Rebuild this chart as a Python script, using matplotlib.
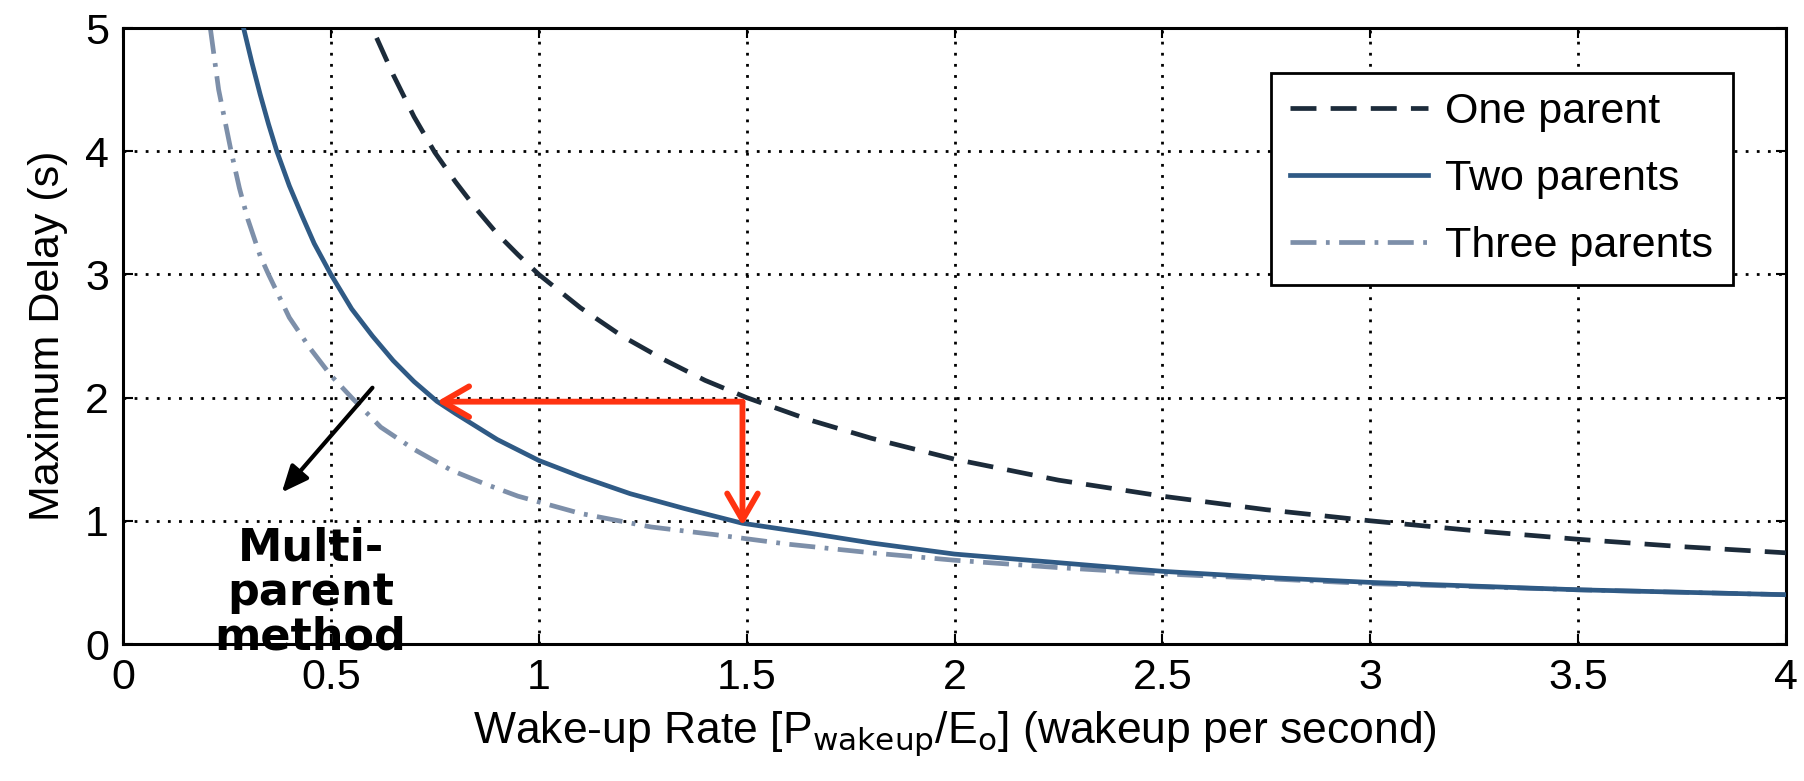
import matplotlib
matplotlib.use("Agg")
import matplotlib.pyplot as plt
from matplotlib import font_manager

# ---------- DATA ----------
one_x = [0.61, 0.65, 0.7, 0.75, 0.8, 0.85, 0.9, 0.95, 1.0, 1.1, 1.2, 1.3, 1.4,
         1.5, 1.65, 1.8, 2.0, 2.25, 2.5, 2.75, 3.0, 3.25, 3.5, 3.75, 4.0]
one_y = [4.92, 4.62, 4.28, 3.99, 3.75, 3.53, 3.33, 3.16, 3.0, 2.73, 2.5, 2.31,
         2.14, 2.0, 1.82, 1.67, 1.5, 1.33, 1.2, 1.09, 1.0, 0.92, 0.85, 0.79, 0.74]

two_x = [0.29, 0.31, 0.33, 0.35, 0.37, 0.4, 0.43, 0.46, 0.5, 0.55, 0.6, 0.65,
         0.7, 0.755, 0.8, 0.9, 1.0, 1.1, 1.22, 1.35, 1.49, 1.65, 1.8, 2.0,
         2.25, 2.5, 2.75, 3.0, 3.5, 4.0]
two_y = [5.0, 4.72, 4.46, 4.22, 4.0, 3.72, 3.48, 3.25, 3.0, 2.72, 2.5, 2.3,
         2.13, 1.97, 1.87, 1.66, 1.49, 1.36, 1.22, 1.1, 0.98, 0.9, 0.82, 0.73,
         0.66, 0.59, 0.54, 0.5, 0.44, 0.4]

three_x = [0.21, 0.23, 0.26, 0.28, 0.3, 0.33, 0.35, 0.4, 0.45, 0.5, 0.55,
           0.62, 0.7, 0.79, 0.87, 0.95, 1.1, 1.27, 1.43, 1.6, 1.8, 2.0, 2.25,
           2.5, 3.0, 3.5, 4.0]
three_y = [5.0, 4.5, 4.0, 3.7, 3.45, 3.15, 3.0, 2.65, 2.4, 2.18, 2.0, 1.76,
           1.58, 1.41, 1.3, 1.2, 1.06, 0.95, 0.885, 0.81, 0.74, 0.68, 0.62,
           0.57, 0.49, 0.44, 0.4]

labels = ["One parent", "Two parents", "Three parents"]
x_ticks = [0, 0.5, 1, 1.5, 2, 2.5, 3, 3.5, 4]
x_tick_labels = ["0", "0.5", "1", "1.5", "2", "2.5", "3", "3.5", "4"]
y_ticks = [0, 1, 2, 3, 4, 5]

# annotation points (data coords)
red_corner = (1.49, 1.967)
red_left_tip = (0.755, 1.967)
red_down_tip = (1.49, 0.96)
black_start = (0.60, 2.08)
black_tip = (0.382, 1.23)

# ---------- STYLE ----------
names = {f.name for f in font_manager.fontManager.ttflist}
base_font = "Liberation Sans" if "Liberation Sans" in names else "DejaVu Sans"
plt.rcParams["font.family"] = [base_font, "DejaVu Sans"]
FS = 31

fig = plt.figure(figsize=(18.04, 7.81), dpi=100)
ax = fig.add_axes([123 / 1804, 1 - 644 / 781, 1663 / 1804, 616 / 781])

ax.plot(one_x, one_y, color="#1c2b3a", lw=3.4, linestyle=(0, (5.5, 3)),
        label=labels[0], zorder=3)
ax.plot(two_x, two_y, color="#2f5a85", lw=3.4, linestyle="-",
        label=labels[1], zorder=3)
ax.plot(three_x, three_y, color="#7d8fa9", lw=3.4,
        linestyle=(0, (5.5, 2, 0.8, 2)), label=labels[2], zorder=2)

# red arrows
red_arrow = dict(arrowstyle="->,head_length=0.95,head_width=0.55",
                 color="#ff3311", lw=4.2, shrinkA=0, shrinkB=0,
                 mutation_scale=20)
ax.annotate("", xy=red_left_tip, xytext=red_corner, arrowprops=red_arrow,
            zorder=4)
ax.annotate("", xy=red_down_tip, xytext=red_corner, arrowprops=red_arrow,
            zorder=4)

# black arrow + text
ax.annotate("", xy=black_tip, xytext=black_start,
            arrowprops=dict(arrowstyle="-|>,head_length=0.8,head_width=0.35",
                            color="black", lw=3, shrinkA=0, shrinkB=0,
                            mutation_scale=20),
            zorder=4)
ax.text(0.451, 0.42, "Multi-\nparent\nmethod", ha="center", va="center",
        fontsize=32, fontweight="bold", family="DejaVu Sans",
        linespacing=1.05, clip_on=False, zorder=5)

ax.set_xlim(0, 4)
ax.set_ylim(0, 5)
ax.set_xticks(x_ticks)
ax.set_xticklabels(x_tick_labels)
ax.set_yticks(y_ticks)
ax.tick_params(direction="in", top=True, right=True, length=7, width=1.5,
               labelsize=FS, pad=10)
ax.grid(True, color="black", linestyle=(0, (1, 3)), lw=2)
for s in ax.spines.values():
    s.set_linewidth(2.2)

ax.set_xlabel(r"Wake-up Rate [P$_{\mathrm{wakeup}}$/E$_{\mathrm{o}}$] (wakeup per second)",
              fontsize=32, labelpad=8)
ax.set_ylabel("Maximum Delay (s)", fontsize=FS, labelpad=12)

leg = ax.legend(loc="upper right", bbox_to_anchor=(0.968, 0.927),
                borderaxespad=0, fontsize=FS, handlelength=3.2,
                fancybox=False, framealpha=1, edgecolor="black",
                labelspacing=0.62, borderpad=0.45, handletextpad=0.4)
leg.get_frame().set_linewidth(2)

fig.savefig("out.png", dpi=100)
